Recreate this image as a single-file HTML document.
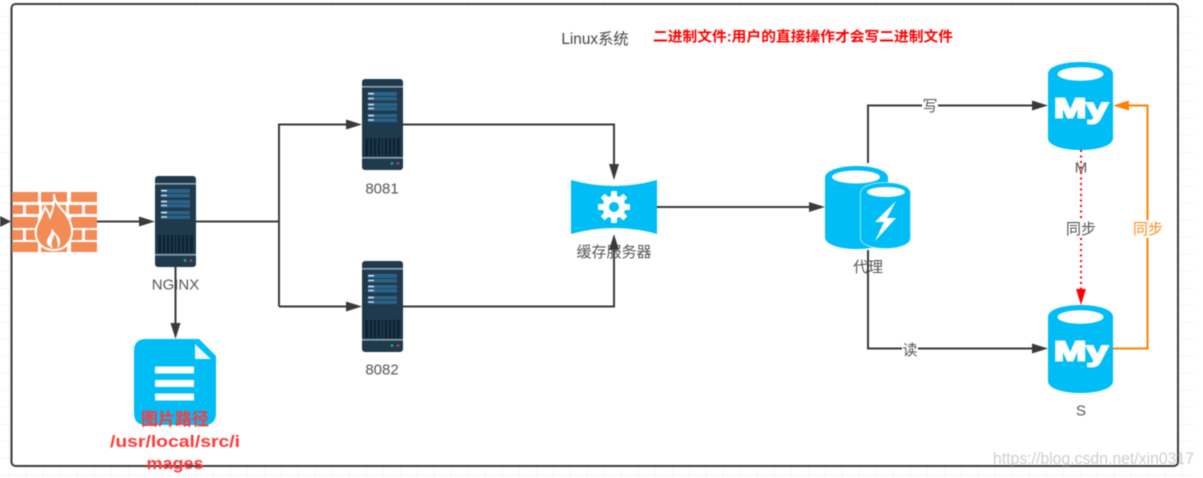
<!DOCTYPE html>
<html><head><meta charset="utf-8"><style>
html,body{margin:0;padding:0;background:#fff;width:1203px;height:478px;overflow:hidden}
svg{display:block;filter:blur(.55px)}
text{font-family:"Liberation Sans","Noto Sans CJK SC",sans-serif}
</style></head><body>
<svg width="1203" height="478" viewBox="0 0 1203 478" xmlns="http://www.w3.org/2000/svg">
<defs>
<pattern id="g" width="17" height="17" patternUnits="userSpaceOnUse" x="9" y="16"><path d="M0 0V17M0 0H17" fill="none" stroke="#ececec" stroke-width="1"/></pattern>
<g id="srv">
<rect width="41" height="91" rx="3" fill="#1f3a4c"/>
<rect y="7" width="41" height="1.6" fill="#8fa3ae"/>
<rect x="6" y="13" width="29" height="4" fill="#2a6289"/><rect x="6" y="18" width="29" height="3.5" fill="#2a6289"/>
<rect x="6" y="24" width="29" height="3.5" fill="#2a6289"/><rect x="6" y="28" width="29" height="3.5" fill="#2a6289"/>
<rect x="6" y="35" width="29" height="3.5" fill="#2a6289"/><rect x="6" y="39.5" width="29" height="3.5" fill="#2a6289"/>
<rect x="6" y="14" width="6" height="1.4" fill="#e8f0f4"/><rect x="6" y="18.8" width="6" height="1.4" fill="#cfe0e8"/>
<rect x="6" y="24.8" width="6" height="1.4" fill="#e8f0f4"/><rect x="6" y="28.8" width="6" height="1.4" fill="#cfe0e8"/>
<rect x="6" y="35.8" width="6" height="1.4" fill="#e8f0f4"/><rect x="6" y="40.3" width="6" height="1.4" fill="#cfe0e8"/>
<rect x="3" y="59" width="35" height="18" fill="#0f2536"/>
<path d="M7 59v18M11 59v18M15 59v18M19 59v18M22 59v18M26 59v18M30 59v18M34 59v18" stroke="#2c4a60" stroke-width=".8"/>
<rect y="78" width="41" height="1.6" fill="#8fa3ae"/>
<circle cx="30" cy="84.5" r="1.4" fill="#2fa36b"/><circle cx="36" cy="84.5" r="1.4" fill="#c43a55"/>
</g>
<g id="my">
<path d="M0 12C0 -4 65 -4 65 12V76C65 92 0 92 0 76Z" fill="#00bdf6"/>
<ellipse cx="32.5" cy="12" rx="23" ry="6.8" fill="#fff"/>
<text x="6" y="55.500" font-size="28" font-weight="700" fill="#fff" stroke="#fff" stroke-width="2" textLength="54" lengthAdjust="spacingAndGlyphs">My</text>
</g>
</defs>
<rect x="0" y="0" width="1194" height="478" fill="url(#g)"/>
<rect x="11.5" y="4" width="1166.5" height="462" rx="4" fill="#fff" stroke="#3a3a3a" stroke-width="2"/>

<text x="595" y="44" font-size="15.300" fill="#444" text-anchor="middle">Linux系统</text>
<text x="653" y="41.500" font-size="14.300" font-weight="700" fill="#ff0000" textLength="300" lengthAdjust="spacingAndGlyphs">二进制文件:用户的直接操作才会写二进制文件</text>

<!-- firewall -->
<g fill="#f28b55">
<path d="M12 192h26v10H12zM41 192h26v10H41zM71 192h26v10H71z"/>
<path d="M12 205h11v9H12zM26 205h13v9H26zM42 205h24v9H42zM69 205h13v9H69zM85 205h12v9H85z"/>
<path d="M12 217h26v11H12zM41 217h26v11H41zM71 217h26v11H71z"/>
<path d="M12 230h11v10H12zM26 230h13v10H26zM69 230h13v10H69zM85 230h12v10H85z"/>
<path d="M12 242h26v10H12zM41 242h26v10H41zM71 242h26v10H71z"/>
<path d="M54 194C55 205 62 208 67 216C72 224 74 232 70 240C66 248 60 250 54 250C46 250 38 246 36 236C34 226 42 218 45 207C48 211 49 214 50 217C53 210 55 202 54 194Z" stroke="#fff" stroke-width="2"/>
<path d="M52 228C52 235 46 238 47 243C48 246 51 248 53 248C50 244 53 238 55 234C57 240 59 244 57 248C61 246 61 240 58 236C55 233 53 231 52 228Z" fill="#fff"/>
</g>

<!-- servers -->
<use href="#srv" x="155" y="176"/>
<use href="#srv" x="362" y="79"/>
<use href="#srv" x="362" y="261"/>
<text x="175.500" y="289.500" font-size="15" fill="#555" text-anchor="middle">NGINX</text>
<text x="382" y="193.500" font-size="15" fill="#555" text-anchor="middle">8081</text>
<text x="382" y="374.500" font-size="15" fill="#555" text-anchor="middle">8082</text>

<!-- document -->
<path d="M146 339H199L216 356V413Q216 425 204 425H146Q134 425 134 413V351Q134 339 146 339Z" fill="#00bdf6"/>
<path d="M195 344L211 359H195Z" fill="#e8f8fe"/>
<rect x="155" y="366.500" width="39" height="7" fill="#fff"/><rect x="155" y="380" width="39" height="7" fill="#fff"/><rect x="155" y="393.500" width="39" height="7" fill="#fff"/>

<!-- cache -->
<path d="M571 180Q614 192 657 180V234Q614 222 571 234Z" fill="#00bdf6"/>
<g transform="translate(614 207)" fill="#fff">
<circle r="11.500"/>
<g id="t"><rect x="-3" y="-16" width="6" height="32" rx="1"/><rect x="-3" y="-16" width="6" height="32" rx="1" transform="rotate(45)"/><rect x="-3" y="-16" width="6" height="32" rx="1" transform="rotate(90)"/><rect x="-3" y="-16" width="6" height="32" rx="1" transform="rotate(135)"/></g>
<circle r="5" fill="#00bdf6"/>
</g>
<text x="614" y="257" font-size="15" fill="#555" text-anchor="middle">缓存服务器</text>

<!-- proxy -->
<path d="M825 178C825 162 888 162 888 178V237C888 253 825 253 825 237Z" fill="#00bdf6"/>
<ellipse cx="856" cy="177" rx="24" ry="6.500" fill="#fff"/>
<path d="M860.500 193C860.500 179 910.500 179 910.500 193V238C910.500 252 860.500 252 860.500 238Z" fill="#00bdf6" stroke="#bfeefc" stroke-width=".8"/>
<ellipse cx="886" cy="192" rx="19" ry="5" fill="#fff"/>
<path d="M896 201L875 222H884L875 241L896 218H887Z" fill="#fff"/>
<text x="868" y="272" font-size="15" fill="#555" text-anchor="middle">代理</text>

<!-- mysql -->
<use href="#my" x="1048" y="62"/>
<use href="#my" x="1048" y="305"/>
<text x="1081" y="172.500" font-size="15" fill="#555" text-anchor="middle">M</text>
<text x="1081" y="415.500" font-size="15" fill="#555" text-anchor="middle">S</text>

<!-- connectors -->
<g fill="none" stroke="#3a3a3a" stroke-width="2">
<path d="M0 221.500H3"/>
<path d="M97 221.500H145"/>
<path d="M196 221.500H279M279 306.500V124.500H352M279 306.500H352"/>
<path d="M175.500 267V329"/>
<path d="M403 124.500H614V170"/>
<path d="M403 306.500H614V244"/>
<path d="M657 207H815"/>
<path d="M868 163V105.500H1038"/>
<path d="M868 250V348.500H1038"/>
</g>
<g fill="#3a3a3a">
<path d="M11 221.500L0 216V227Z"/>
<path d="M155 221.500L139 216.500V226.500Z"/>
<path d="M362 124.500L346 119.500V129.500Z"/>
<path d="M362 306.500L346 301.500V311.500Z"/>
<path d="M175.500 339L170.500 323H180.500Z"/>
<path d="M614 180L609 164H619Z"/>
<path d="M614 234L609 250H619Z"/>
<path d="M825 207L809 202V212Z"/>
<path d="M1048 105.500L1032 100.500V110.500Z"/>
<path d="M1048 348.500L1032 343.500V353.500Z"/>
</g>
<path d="M1081 150V295" fill="none" stroke="#ff0000" stroke-width="2" stroke-dasharray="2 3.500"/>
<path d="M1081 305L1076 289H1086Z" fill="#ff0000"/>
<path d="M1113 348.500H1147.500V105.500H1125" fill="none" stroke="#ff8000" stroke-width="2"/>
<path d="M1113 105.500L1129 100.500V110.500Z" fill="#ff8000"/>

<!-- edge labels -->
<rect x="922" y="97" width="16" height="17" fill="#fff"/>
<text x="930" y="111" font-size="15" fill="#555" text-anchor="middle">写</text>
<rect x="902" y="341" width="16" height="17" fill="#fff"/>
<text x="910" y="355" font-size="15" fill="#555" text-anchor="middle">读</text>
<rect x="1066" y="220" width="30" height="18" fill="#fff"/>
<text x="1081" y="234" font-size="15" fill="#555" text-anchor="middle">同步</text>
<rect x="1133" y="220" width="30" height="18" fill="#fff"/>
<text x="1148" y="234" font-size="15" fill="#ff8c1a" text-anchor="middle">同步</text>

<!-- doc label -->
<g font-size="17" font-weight="700" fill="#ff3a3a" text-anchor="middle">
<text x="175" y="425">图片路径</text>
<text x="175" y="447" textLength="130" lengthAdjust="spacingAndGlyphs">/usr/local/src/i</text>
<text x="175" y="469" textLength="57" lengthAdjust="spacingAndGlyphs">mages</text>
</g>

<text x="993" y="464" font-size="17" fill="#a0a0a0" fill-opacity=".5" textLength="201" lengthAdjust="spacingAndGlyphs">https://blog.csdn.net/xin0317</text>
</svg>
</body></html>
